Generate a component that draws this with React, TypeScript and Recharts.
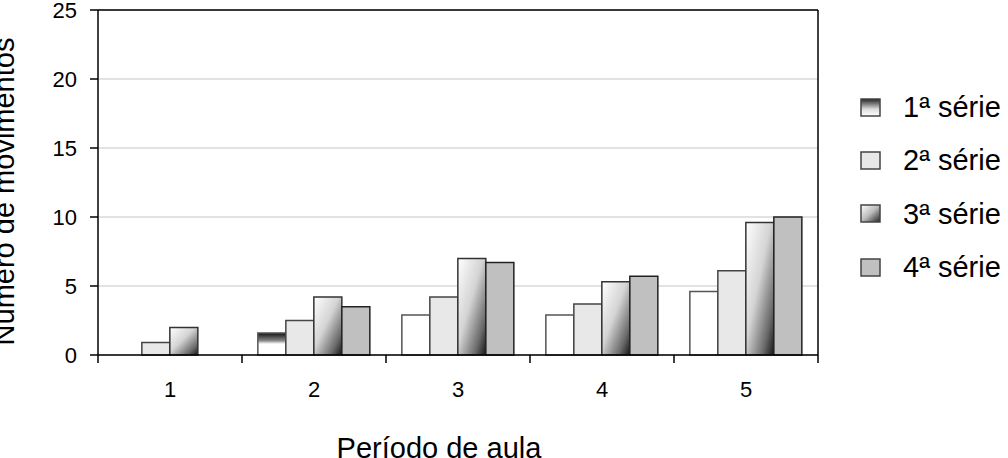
import React from 'react';
import { BarChart, Bar, XAxis, YAxis, CartesianGrid, Legend, ReferenceLine, Cell } from 'recharts';

const categories = ['1', '2', '3', '4', '5'];
const serie1 = [0, 1.6, 2.9, 2.9, 4.6];
const serie2 = [0.9, 2.5, 4.2, 3.7, 6.1];
const serie3 = [2.0, 4.2, 7.0, 5.3, 9.6];
const serie4 = [0, 3.5, 6.7, 5.7, 10.0];
const seriesNames = ['1ª série', '2ª série', '3ª série', '4ª série'];
const yTicks = [0, 5, 10, 15, 20, 25];

const data = categories.map((c, i) => ({
  cat: c,
  s1: serie1[i],
  s2: serie2[i],
  s3: serie3[i],
  s4: serie4[i],
}));

const FONT = '"Liberation Sans", Arial, sans-serif';
const fills = ['url(#lg1)', '#e8e8e8', 'url(#lg3)', '#c0c0c0'];

const TICK_SIZE = 6;
const TICK_MARGIN = 20;

const CatTick = (props: any) => {
  const { x, y, payload, index, visibleTicksCount, width } = props;
  const axisY = y - TICK_SIZE - TICK_MARGIN;
  const half = width / visibleTicksCount / 2;
  return (
    <g>
      <line x1={x - half} x2={x - half} y1={axisY} y2={axisY + 8} stroke="#000" strokeWidth={1.5} />
      {index === visibleTicksCount - 1 && (
        <line x1={x + half} x2={x + half} y1={axisY} y2={axisY + 8} stroke="#000" strokeWidth={1.5} />
      )}
      <text x={x} y={y} dy="0.71em" textAnchor="middle" fontSize={22} fill="#000">
        {payload.value}
      </text>
    </g>
  );
};

const renderLegend = () => (
  <div style={{ fontFamily: FONT }}>
    <svg width={0} height={0} style={{ position: 'absolute' }}>
      <defs>
        <linearGradient id="lg1" x1="0" y1="0" x2="0" y2="1">
          <stop offset="0" stopColor="#222" />
          <stop offset="0.6" stopColor="#ddd" />
          <stop offset="1" stopColor="#fff" />
        </linearGradient>
        <linearGradient id="lg3" x1="0" y1="0" x2="1" y2="1">
          <stop offset="0" stopColor="#fff" />
          <stop offset="0.5" stopColor="#bbb" />
          <stop offset="1" stopColor="#222" />
        </linearGradient>
      </defs>
    </svg>
    {seriesNames.map((n, i) => (
      <div key={n} style={{ height: 53.3, display: 'flex', alignItems: 'center' }}>
        <svg width={22} height={20} style={{ marginRight: 21 }}>
          <rect x={1} y={1} width={19} height={17} fill={fills[i]} stroke="#444" strokeWidth={1.5} />
        </svg>
        <span style={{ fontSize: 29, color: '#000', lineHeight: '29px' }}>{n}</span>
      </div>
    ))}
  </div>
);

export default function App() {
  return (
    <div style={{ position: 'absolute', left: 0, top: 0, fontFamily: FONT }}>
      <BarChart
        width={1008}
        height={458}
        data={data}
        margin={{ top: 10, right: 189, bottom: 0, left: 0 }}
        barCategoryGap="11%"
        barGap={0}
      >
        <defs>
          <linearGradient id="g3" x1="0" y1="0" x2="1" y2="1">
            <stop offset="0" stopColor="#ffffff" />
            <stop offset="0.45" stopColor="#d4d4d4" />
            <stop offset="0.8" stopColor="#6a6a6a" />
            <stop offset="1" stopColor="#151515" />
          </linearGradient>
          <linearGradient id="g1" x1="0" y1="0" x2="0" y2="1">
            <stop offset="0" stopColor="#111" />
            <stop offset="0.35" stopColor="#888" />
            <stop offset="0.5" stopColor="#fff" />
            <stop offset="1" stopColor="#fff" />
          </linearGradient>
        </defs>
        <CartesianGrid vertical={false} stroke="#d9d9d9" strokeWidth={1.5} />
        <XAxis
          dataKey="cat"
          height={103}
          interval={0}
          axisLine={{ stroke: '#000', strokeWidth: 1.5 }}
          tickLine={false}
          tickSize={TICK_SIZE}
          tickMargin={TICK_MARGIN}
          tick={CatTick}
          label={{
            content: (p: any) => {
              const vb = p.viewBox || {};
              return (
                <text
                  x={vb.x + vb.width / 2 - 19}
                  y={vb.y + 103}
                  textAnchor="middle"
                  fontSize={29}
                  fill="#000"
                >
                  Período de aula
                </text>
              );
            },
          }}
        />
        <YAxis
          domain={[0, 25]}
          ticks={yTicks}
          interval={0}
          width={98}
          axisLine={{ stroke: '#000', strokeWidth: 1.5 }}
          tickLine={{ stroke: '#000', strokeWidth: 1.5 }}
          tickSize={8}
          tickMargin={13}
          tick={{ fontSize: 22, fill: '#000' }}
          label={{
            content: (p: any) => {
              const vb = p.viewBox || {};
              const cx = 4;
              const cy = vb.y + vb.height / 2 + 9;
              return (
                <text
                  x={cx}
                  y={cy}
                  transform={`rotate(-90, ${cx}, ${cy})`}
                  textAnchor="middle"
                  dominantBaseline="central"
                  fontSize={29}
                  fill="#000"
                >
                  Número de movimentos
                </text>
              );
            },
          }}
        />
        <YAxis
          yAxisId="r"
          orientation="right"
          width={1}
          domain={[0, 25]}
          tick={false}
          tickLine={false}
          axisLine={{ stroke: '#000', strokeWidth: 1.5 }}
        />
        <ReferenceLine y={25} stroke="#000" strokeWidth={1.5} />
        <Legend
          layout="vertical"
          align="center"
          verticalAlign="middle"
          wrapperStyle={{ left: 860, top: 81, width: 148 }}
          content={renderLegend}
        />
        <Bar dataKey="s1" name={seriesNames[0]} fill="#ffffff" stroke="#555" strokeWidth={1.5} isAnimationActive={false}>
          {data.map((d, i) => (
            <Cell key={i} fill={i === 1 ? 'url(#g1)' : '#ffffff'} />
          ))}
        </Bar>
        <Bar dataKey="s2" name={seriesNames[1]} fill="#e8e8e8" stroke="#444" strokeWidth={1.5} isAnimationActive={false} />
        <Bar dataKey="s3" name={seriesNames[2]} fill="url(#g3)" stroke="#333" strokeWidth={1.5} isAnimationActive={false} />
        <Bar dataKey="s4" name={seriesNames[3]} fill="#c0c0c0" stroke="#222" strokeWidth={1.5} isAnimationActive={false} />
      </BarChart>
    </div>
  );
}
